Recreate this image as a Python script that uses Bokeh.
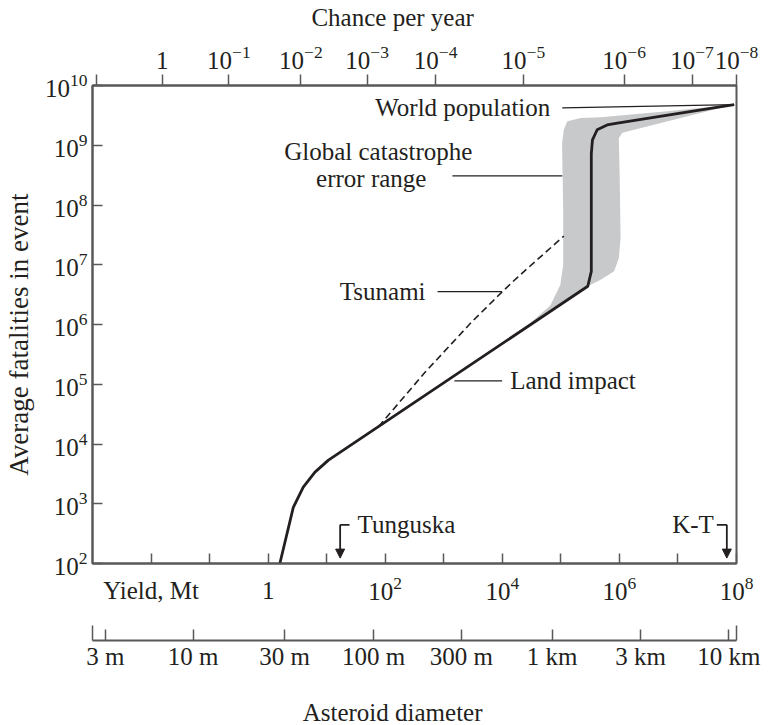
from bokeh.plotting import figure
from bokeh.models import (LogAxis, FixedTicker, Arrow, NormalHead, ColumnDataSource,
                          Range1d, LogScale, LogTickFormatter)
from bokeh.core.properties import value
from bokeh.embed import file_html
from bokeh.resources import INLINE

FONT = "Liberation Serif"
INK = "#231f20"
RULE = "#58595b"
BAND = "#c8c9cb"
FS = "25px"
NB = "\u00a0"

# ---------------- axis values (exponents of ten) ----------------
fatality_tick_exp = [2, 3, 4, 5, 6, 7, 8, 9, 10]
yield_tick_exp = [-2, -1, 0, 1, 2, 3, 4, 5, 6, 7, 8]
yield_tick_text = {-2: "Yield, Mt", -1: "", 0: "1", 1: "", 3: "", 5: "", 7: ""}
# positions of the "Chance per year" ticks, as log10 of yield (Mt)
chance_tick_yield_exp = [-2.93, -1.81, -0.67, 0.56, 1.69, 2.86, 4.36, 6.08, 7.24, 8.0]
chance_tick_exp = [None, 0, -1, -2, -3, -4, -5, -6, -7, -8]
# positions of the "Asteroid diameter" ticks, as log10 of yield (Mt)
diameter_tick_yield_exp = [-2.78, -1.28, 0.28, 1.80, 3.30, 4.85, 6.36, 7.87]
diameter_tick_labels = ["3 m", "10 m", "30 m", "100 m", "300 m", "1 km", "3 km", "10 km"]
diameter_end_yield_exp = [-3.0, 8.0]

# ---------------- curves (log10 yield Mt, log10 fatalities) ----------------
land_yield_exp = [0.20, 0.43, 0.60, 0.80, 1.03, 5.46, 5.52, 5.52, 5.54, 5.62, 5.79, 5.965, 7.96]
land_fatal_exp = [2.00, 2.94, 3.28, 3.53, 3.73, 6.64, 6.89, 8.86, 9.09, 9.26, 9.34, 9.37, 9.68]

tsunami_yield_exp = [1.886, 2.68, 3.47, 4.00, 4.26, 5.05]
tsunami_fatal_exp = [4.29, 5.20, 6.035, 6.55, 6.79, 7.48]

band_yield_exp = [4.31, 5.46, 5.68, 5.91, 5.99, 6.02, 6.005, 5.99, 6.05, 6.25, 7.96,
                  6.82, 5.68, 5.34, 5.11, 5.05, 5.02, 5.04, 5.04, 4.99, 4.82, 4.60, 4.37]
band_fatal_exp = [5.88, 6.64, 6.75, 6.89, 7.11, 7.45, 8.47, 9.12, 9.21, 9.26, 9.68,
                  9.57, 9.47, 9.455, 9.40, 9.26, 9.03, 7.90, 7.00, 6.66, 6.32, 6.13, 5.93]

# events on the yield axis (log10 Mt)
tunguska_yield_exp = 1.23
kt_yield_exp = 7.835

X_LO, X_HI = -3.0, 8.0  # yield range, log10 Mt
Y_LO, Y_HI = 2.0, 10.0  # fatality range, log10

p = figure(width=767, height=728, x_axis_type="log", y_axis_type="log",
           x_range=(10 ** X_LO, 10 ** X_HI), y_range=(10 ** Y_LO, 10 ** Y_HI),
           output_backend="svg", toolbar_location=None,
           min_border_left=85, min_border_right=31, min_border_top=81, min_border_bottom=155)
p.grid.visible = False
p.outline_line_color = RULE
p.outline_line_width = 2

# the chance-per-year scale, laid against the yield scale (fitted between its "1" and "10^-8" ticks)
chance_per_yield = (chance_tick_exp[1] - chance_tick_exp[-1]) / (chance_tick_yield_exp[-1] - chance_tick_yield_exp[1])


def chance_pos(e):
    return 10 ** (-chance_per_yield * (e - chance_tick_yield_exp[1]))


p.extra_x_ranges = {"chance": Range1d(start=chance_pos(X_LO), end=chance_pos(X_HI))}
p.extra_x_scales = {"chance": LogScale()}


def style_axis(ax):
    ax.axis_line_color = RULE
    ax.axis_line_width = 2
    ax.major_tick_line_color = RULE
    ax.major_tick_line_width = 1.5
    ax.minor_tick_line_color = None
    ax.major_label_text_font = FONT
    ax.major_label_text_font_size = FS
    ax.major_label_text_color = INK
    ax.major_label_text_line_height = 1.0
    ax.axis_label_text_font = FONT
    ax.axis_label_text_font_size = FS
    ax.axis_label_text_color = INK
    ax.axis_label_text_font_style = "normal"
    ax.axis_label_text_line_height = 1.0


# left axis: fatalities
yax = p.yaxis[0]
style_axis(yax)
yax.ticker = FixedTicker(ticks=[10.0 ** e for e in fatality_tick_exp])
yax.formatter = LogTickFormatter()
yax.major_tick_in = 10
yax.major_tick_out = 0
yax.major_label_standoff = 5
yax.axis_label = "Average fatalities in event" + NB * 3
yax.axis_label_text_font_size = "27px"
yax.axis_label_standoff = 8

# bottom axis 1: yield
xax = p.xaxis[0]
style_axis(xax)
xax.ticker = FixedTicker(ticks=[10.0 ** e for e in yield_tick_exp])
xax.formatter = LogTickFormatter()
xax.major_label_overrides = {10.0 ** e: t for e, t in yield_tick_text.items()}
xax.major_tick_in = 10
xax.major_tick_out = 0
xax.major_label_standoff = 13
xax.axis_label = NB
xax.axis_label_standoff = 0
xax.axis_label_text_font_size = "28px"

# bottom axis 2: asteroid diameter
dax = LogAxis(ticker=FixedTicker(ticks=[10.0 ** e for e in diameter_tick_yield_exp],
                                 minor_ticks=[10.0 ** e for e in diameter_end_yield_exp]))
style_axis(dax)
dax.major_label_overrides = {10.0 ** e: t for e, t in zip(diameter_tick_yield_exp, diameter_tick_labels)}
dax.major_tick_in = 11
dax.major_tick_out = 0
dax.minor_tick_line_color = RULE
dax.minor_tick_line_width = 1.5
dax.minor_tick_in = 15
dax.minor_tick_out = 0
dax.major_label_standoff = 2
dax.axis_label = "Asteroid diameter" + NB * 7
dax.axis_label_standoff = 26
p.add_layout(dax, "below")

# top axis: chance per year
tax = LogAxis(x_range_name="chance",
              ticker=FixedTicker(ticks=[chance_pos(e) for e in chance_tick_yield_exp]),
              formatter=LogTickFormatter(min_exponent=1))
style_axis(tax)
tax.major_label_overrides = {chance_pos(e): "" for e, c in zip(chance_tick_yield_exp, chance_tick_exp) if c is None}
tax.major_tick_in = 0
tax.major_tick_out = 11
tax.major_label_standoff = 6
tax.axis_label = "Chance per year" + NB * 7
tax.axis_label_standoff = 12
p.add_layout(tax, "above")

# ---------------- data marks ----------------
p.patch([10 ** v for v in band_yield_exp], [10 ** v for v in band_fatal_exp],
        fill_color=BAND, line_color=None)
p.line([10 ** v for v in tsunami_yield_exp], [10 ** v for v in tsunami_fatal_exp],
       line_color=INK, line_width=1.6, line_dash="7 4")
p.line([10 ** v for v in land_yield_exp], [10 ** v for v in land_fatal_exp],
       line_color=INK, line_width=2.8, line_join="round")

# ---------------- annotations ----------------
leaders = {
    "world": ([5.024, 7.96], [9.624, 9.68]),
    "global": ([3.148, 5.024], [8.486, 8.486]),
    "tsunami": ([2.894, 3.997], [6.551, 6.551]),
    "land": ([3.182, 3.997], [5.055, 5.055]),
}
for xs, ys in leaders.values():
    p.line([10 ** v for v in xs], [10 ** v for v in ys], line_color=INK, line_width=1.3)

text_kw = dict(text_font=value(FONT), text_font_size=value(FS), text_color=INK,
               text_baseline="middle")
right_src = ColumnDataSource(dict(x=[10 ** 5.024, 10 ** 2.894], y=[10 ** 9.624, 10 ** 6.551],
                                  t=["World population", "Tsunami"]))
p.text(x="x", y="y", text="t", source=right_src, text_align="right", x_offset=-12, **text_kw)
left_src = ColumnDataSource(dict(x=[10 ** 3.997, 10 ** 1.39], y=[10 ** 5.055, 10 ** 2.647],
                                 t=["Land impact", "Tunguska"]))
p.text(x="x", y="y", text="t", source=left_src, text_align="left", x_offset=8, **text_kw)
center_src = ColumnDataSource(dict(x=[10 ** 1.881, 10 ** 1.761], y=[10 ** 8.90, 10 ** 8.45],
                                   t=["Global catastrophe", "error range"]))
p.text(x="x", y="y", text="t", source=center_src, text_align="center", **text_kw)
kt_src = ColumnDataSource(dict(x=[10 ** 7.664], y=[10 ** 2.647], t=["K-T"]))
p.text(x="x", y="y", text="t", source=kt_src, text_align="right", x_offset=-3, **text_kw)

for ax_exp, br_exp in [(tunguska_yield_exp, 1.39), (kt_yield_exp, 7.664)]:
    p.line([10 ** br_exp, 10 ** ax_exp], [10 ** 2.647, 10 ** 2.647], line_color=INK, line_width=1.8)
    p.add_layout(Arrow(end=NormalHead(size=9, fill_color=INK, line_color=INK),
                       x_start=10 ** ax_exp, y_start=10 ** 2.647,
                       x_end=10 ** ax_exp, y_end=10 ** 2.09,
                       line_color=INK, line_width=1.8))

open("out.html", "w").write(file_html(p, INLINE))
